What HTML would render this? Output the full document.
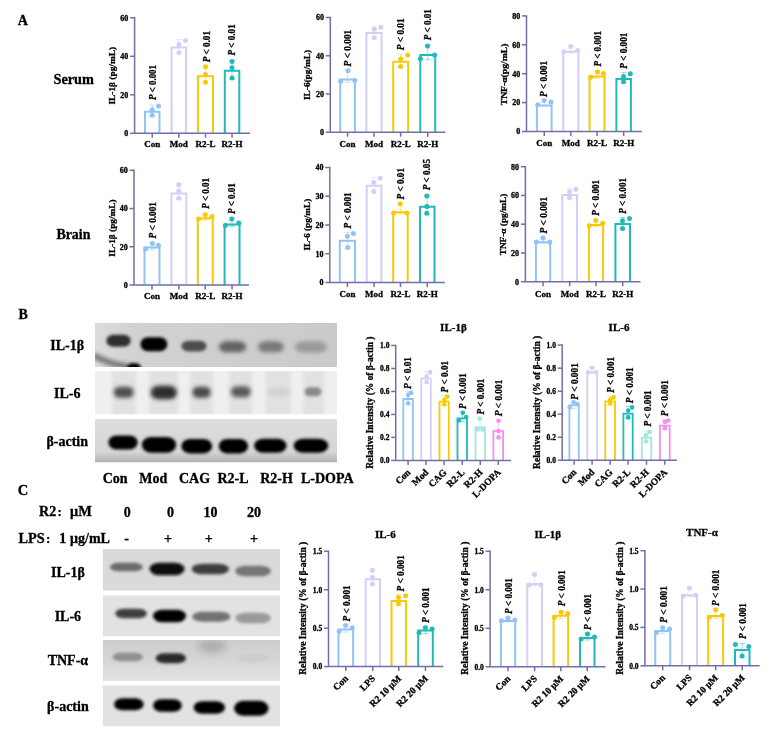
<!DOCTYPE html><html><head><meta charset="utf-8"><style>html,body{margin:0;padding:0;background:#fff;}svg{display:block;filter:blur(0.4px);}text{font-family:"Liberation Serif", serif;font-weight:bold;fill:#000;stroke:#000;stroke-width:0.3px;}</style></head><body>
<svg width="779" height="736" viewBox="0 0 779 736">
<defs><filter id="b1" x="-50%" y="-80%" width="200%" height="260%"><feGaussianBlur stdDeviation="2.2"/></filter><filter id="b2" x="-50%" y="-80%" width="200%" height="260%"><feGaussianBlur stdDeviation="1.8"/></filter><filter id="b3" x="-50%" y="-50%" width="200%" height="200%"><feGaussianBlur stdDeviation="4"/></filter><linearGradient id="gB1" x1="0" y1="0" x2="1" y2="0"><stop offset="0" stop-color="#dcdcdc"/><stop offset="0.15" stop-color="#d2d2d2"/><stop offset="1" stop-color="#cacaca"/></linearGradient><linearGradient id="gB3" x1="0" y1="0" x2="0" y2="1"><stop offset="0" stop-color="#dedede"/><stop offset="0.75" stop-color="#d6d6d6"/><stop offset="1" stop-color="#b0b0b0"/></linearGradient><linearGradient id="gC3" x1="0" y1="0" x2="0" y2="1"><stop offset="0" stop-color="#cdcdcd"/><stop offset="0.5" stop-color="#d6d6d6"/><stop offset="1" stop-color="#e4e4e4"/></linearGradient></defs>
<rect width="779" height="736" fill="#fff"/>
<text x="22.80" y="25.00" font-size="14" text-anchor="middle">A</text>
<text x="73.70" y="84.00" font-size="14" text-anchor="middle" textLength="40.50" lengthAdjust="spacingAndGlyphs">Serum</text>
<text x="73.40" y="239.20" font-size="14" text-anchor="middle" textLength="34.00" lengthAdjust="spacingAndGlyphs">Brain</text>
<path d="M145.00 133.30 V111.80 H159.50 V133.30" fill="none" stroke="#92c3f7" stroke-width="2.0"/>
<path d="M152.25 105.00 V116.20 M149.25 105.00 H155.25 M149.25 116.20 H155.25" stroke="#92c3f7" stroke-width="0.8" opacity="0.6" fill="none"/>
<circle cx="158.60" cy="106.00" r="2.5" fill="#92c3f7"/>
<circle cx="152.20" cy="109.70" r="2.5" fill="#92c3f7"/>
<circle cx="152.20" cy="115.20" r="2.5" fill="#92c3f7"/>
<path d="M171.60 133.30 V47.40 H186.10 V133.30" fill="none" stroke="#d3d0f7" stroke-width="2.0"/>
<path d="M178.85 39.60 V53.40 M175.85 39.60 H181.85 M175.85 53.40 H181.85" stroke="#d3d0f7" stroke-width="0.8" opacity="0.6" fill="none"/>
<circle cx="185.50" cy="40.60" r="2.5" fill="#d3d0f7"/>
<circle cx="179.00" cy="44.60" r="2.5" fill="#d3d0f7"/>
<circle cx="179.00" cy="52.40" r="2.5" fill="#d3d0f7"/>
<path d="M198.00 133.30 V76.20 H213.00 V133.30" fill="none" stroke="#f7c90a" stroke-width="2.0"/>
<path d="M205.50 65.70 V83.30 M202.50 65.70 H208.50 M202.50 83.30 H208.50" stroke="#f7c90a" stroke-width="0.8" opacity="0.6" fill="none"/>
<circle cx="205.50" cy="66.70" r="2.5" fill="#f7c90a"/>
<circle cx="205.50" cy="74.50" r="2.5" fill="#f7c90a"/>
<circle cx="205.50" cy="82.30" r="2.5" fill="#f7c90a"/>
<path d="M224.80 133.30 V70.80 H239.30 V133.30" fill="none" stroke="#22b9b9" stroke-width="2.0"/>
<path d="M232.05 60.40 V79.00 M229.05 60.40 H235.05 M229.05 79.00 H235.05" stroke="#22b9b9" stroke-width="0.8" opacity="0.6" fill="none"/>
<circle cx="232.00" cy="61.40" r="2.5" fill="#22b9b9"/>
<circle cx="232.00" cy="67.70" r="2.5" fill="#22b9b9"/>
<circle cx="232.00" cy="78.00" r="2.5" fill="#22b9b9"/>
<path d="M134.60 17.05 V133.30 H250.00" fill="none" stroke="#726fa8" stroke-width="1.5"/>
<path d="M130.10 133.30 H134.60" stroke="#726fa8" stroke-width="1.5"/>
<text x="128.30" y="136.10" font-size="8" text-anchor="end">0</text>
<path d="M130.10 94.80 H134.60" stroke="#726fa8" stroke-width="1.5"/>
<text x="128.30" y="97.60" font-size="8" text-anchor="end">20</text>
<path d="M130.10 56.30 H134.60" stroke="#726fa8" stroke-width="1.5"/>
<text x="128.30" y="59.10" font-size="8" text-anchor="end">40</text>
<path d="M130.10 17.80 H134.60" stroke="#726fa8" stroke-width="1.5"/>
<text x="128.30" y="20.60" font-size="8" text-anchor="end">60</text>
<path d="M152.25 133.30 V137.80" stroke="#726fa8" stroke-width="1.5"/>
<text x="152.25" y="147.40" font-size="9" text-anchor="middle">Con</text>
<path d="M178.85 133.30 V137.80" stroke="#726fa8" stroke-width="1.5"/>
<text x="178.85" y="147.40" font-size="9" text-anchor="middle">Mod</text>
<path d="M205.50 133.30 V137.80" stroke="#726fa8" stroke-width="1.5"/>
<text x="205.50" y="147.40" font-size="9" text-anchor="middle">R2-L</text>
<path d="M232.05 133.30 V137.80" stroke="#726fa8" stroke-width="1.5"/>
<text x="232.05" y="147.40" font-size="9" text-anchor="middle">R2-H</text>
<text x="156.10" y="100.00" font-size="9.6" text-anchor="start" transform="rotate(-90 156.10 100.00)" textLength="35.00" lengthAdjust="spacingAndGlyphs"><tspan font-style="italic">P</tspan> &lt; 0.001</text>
<text x="209.80" y="62.30" font-size="9.6" text-anchor="start" transform="rotate(-90 209.80 62.30)" textLength="31.30" lengthAdjust="spacingAndGlyphs"><tspan font-style="italic">P</tspan> &lt; 0.01</text>
<text x="234.90" y="55.50" font-size="9.6" text-anchor="start" transform="rotate(-90 234.90 55.50)" textLength="31.20" lengthAdjust="spacingAndGlyphs"><tspan font-style="italic">P</tspan> &lt; 0.01</text>
<text x="114.60" y="75.75" font-size="9" text-anchor="middle" transform="rotate(-90 114.60 75.75)" textLength="57.50" lengthAdjust="spacingAndGlyphs">IL-1β (pg/mL)</text>
<path d="M340.20 132.20 V79.40 H354.90 V132.20" fill="none" stroke="#92c3f7" stroke-width="2.0"/>
<path d="M347.55 69.70 V82.20 M344.55 69.70 H350.55 M344.55 82.20 H350.55" stroke="#92c3f7" stroke-width="0.8" opacity="0.6" fill="none"/>
<circle cx="348.00" cy="70.70" r="2.5" fill="#92c3f7"/>
<circle cx="340.60" cy="81.20" r="2.5" fill="#92c3f7"/>
<circle cx="354.80" cy="80.50" r="2.5" fill="#92c3f7"/>
<path d="M366.40 132.20 V33.10 H381.60 V132.20" fill="none" stroke="#d3d0f7" stroke-width="2.0"/>
<path d="M374.00 26.30 V38.80 M371.00 26.30 H377.00 M371.00 38.80 H377.00" stroke="#d3d0f7" stroke-width="0.8" opacity="0.6" fill="none"/>
<circle cx="380.90" cy="27.30" r="2.5" fill="#d3d0f7"/>
<circle cx="374.30" cy="29.30" r="2.5" fill="#d3d0f7"/>
<circle cx="374.30" cy="37.80" r="2.5" fill="#d3d0f7"/>
<path d="M393.20 132.20 V61.80 H408.10 V132.20" fill="none" stroke="#f7c90a" stroke-width="2.0"/>
<path d="M400.65 54.10 V67.40 M397.65 54.10 H403.65 M397.65 67.40 H403.65" stroke="#f7c90a" stroke-width="0.8" opacity="0.6" fill="none"/>
<circle cx="407.70" cy="55.10" r="2.5" fill="#f7c90a"/>
<circle cx="400.70" cy="59.10" r="2.5" fill="#f7c90a"/>
<circle cx="400.70" cy="66.40" r="2.5" fill="#f7c90a"/>
<path d="M420.30 132.20 V55.10 H435.20 V132.20" fill="none" stroke="#22b9b9" stroke-width="2.0"/>
<path d="M427.75 45.00 V59.70 M424.75 45.00 H430.75 M424.75 59.70 H430.75" stroke="#22b9b9" stroke-width="0.8" opacity="0.6" fill="none"/>
<circle cx="427.50" cy="46.00" r="2.5" fill="#22b9b9"/>
<circle cx="420.40" cy="58.70" r="2.5" fill="#22b9b9"/>
<circle cx="434.50" cy="55.10" r="2.5" fill="#22b9b9"/>
<path d="M330.30 16.75 V132.20 H445.30" fill="none" stroke="#726fa8" stroke-width="1.5"/>
<path d="M325.80 132.20 H330.30" stroke="#726fa8" stroke-width="1.5"/>
<text x="324.00" y="135.00" font-size="8" text-anchor="end">0</text>
<path d="M325.80 93.97 H330.30" stroke="#726fa8" stroke-width="1.5"/>
<text x="324.00" y="96.77" font-size="8" text-anchor="end">20</text>
<path d="M325.80 55.73 H330.30" stroke="#726fa8" stroke-width="1.5"/>
<text x="324.00" y="58.53" font-size="8" text-anchor="end">40</text>
<path d="M325.80 17.50 H330.30" stroke="#726fa8" stroke-width="1.5"/>
<text x="324.00" y="20.30" font-size="8" text-anchor="end">60</text>
<path d="M347.55 132.20 V136.70" stroke="#726fa8" stroke-width="1.5"/>
<text x="347.55" y="146.90" font-size="9" text-anchor="middle">Con</text>
<path d="M374.00 132.20 V136.70" stroke="#726fa8" stroke-width="1.5"/>
<text x="374.00" y="146.90" font-size="9" text-anchor="middle">Mod</text>
<path d="M400.65 132.20 V136.70" stroke="#726fa8" stroke-width="1.5"/>
<text x="400.65" y="146.90" font-size="9" text-anchor="middle">R2-L</text>
<path d="M427.75 132.20 V136.70" stroke="#726fa8" stroke-width="1.5"/>
<text x="427.75" y="146.90" font-size="9" text-anchor="middle">R2-H</text>
<text x="351.20" y="66.40" font-size="9.6" text-anchor="start" transform="rotate(-90 351.20 66.40)" textLength="36.70" lengthAdjust="spacingAndGlyphs"><tspan font-style="italic">P</tspan> &lt; 0.001</text>
<text x="404.30" y="50.20" font-size="9.6" text-anchor="start" transform="rotate(-90 404.30 50.20)" textLength="31.80" lengthAdjust="spacingAndGlyphs"><tspan font-style="italic">P</tspan> &lt; 0.01</text>
<text x="431.40" y="40.30" font-size="9.6" text-anchor="start" transform="rotate(-90 431.40 40.30)" textLength="31.10" lengthAdjust="spacingAndGlyphs"><tspan font-style="italic">P</tspan> &lt; 0.01</text>
<text x="309.90" y="75.00" font-size="9" text-anchor="middle" transform="rotate(-90 309.90 75.00)" textLength="50.00" lengthAdjust="spacingAndGlyphs">IL-6(pg/mL)</text>
<path d="M536.90 131.50 V105.40 H551.60 V131.50" fill="none" stroke="#92c3f7" stroke-width="2.0"/>
<path d="M544.25 99.50 V105.70 M541.25 99.50 H547.25 M541.25 105.70 H547.25" stroke="#92c3f7" stroke-width="0.8" opacity="0.6" fill="none"/>
<circle cx="544.10" cy="100.50" r="2.5" fill="#92c3f7"/>
<circle cx="550.90" cy="101.90" r="2.5" fill="#92c3f7"/>
<circle cx="537.80" cy="104.70" r="2.5" fill="#92c3f7"/>
<path d="M563.20 131.50 V51.80 H578.40 V131.50" fill="none" stroke="#d3d0f7" stroke-width="2.0"/>
<path d="M570.80 45.50 V52.80 M567.80 45.50 H573.80 M567.80 52.80 H573.80" stroke="#d3d0f7" stroke-width="0.8" opacity="0.6" fill="none"/>
<circle cx="570.70" cy="46.50" r="2.5" fill="#d3d0f7"/>
<circle cx="577.70" cy="50.40" r="2.5" fill="#d3d0f7"/>
<circle cx="563.90" cy="51.80" r="2.5" fill="#d3d0f7"/>
<path d="M589.60 131.50 V76.40 H604.50 V131.50" fill="none" stroke="#f7c90a" stroke-width="2.0"/>
<path d="M597.05 71.00 V78.20 M594.05 71.00 H600.05 M594.05 78.20 H600.05" stroke="#f7c90a" stroke-width="0.8" opacity="0.6" fill="none"/>
<circle cx="597.50" cy="72.00" r="2.5" fill="#f7c90a"/>
<circle cx="603.40" cy="73.40" r="2.5" fill="#f7c90a"/>
<circle cx="590.70" cy="77.20" r="2.5" fill="#f7c90a"/>
<path d="M616.40 131.50 V78.90 H630.90 V131.50" fill="none" stroke="#22b9b9" stroke-width="2.0"/>
<path d="M623.65 72.70 V82.80 M620.65 72.70 H626.65 M620.65 82.80 H626.65" stroke="#22b9b9" stroke-width="0.8" opacity="0.6" fill="none"/>
<circle cx="630.30" cy="73.70" r="2.5" fill="#22b9b9"/>
<circle cx="623.50" cy="76.50" r="2.5" fill="#22b9b9"/>
<circle cx="623.50" cy="81.80" r="2.5" fill="#22b9b9"/>
<path d="M526.50 15.15 V131.50 H641.70" fill="none" stroke="#726fa8" stroke-width="1.5"/>
<path d="M522.00 131.50 H526.50" stroke="#726fa8" stroke-width="1.5"/>
<text x="520.20" y="134.30" font-size="8" text-anchor="end">0</text>
<path d="M522.00 102.60 H526.50" stroke="#726fa8" stroke-width="1.5"/>
<text x="520.20" y="105.40" font-size="8" text-anchor="end">20</text>
<path d="M522.00 73.70 H526.50" stroke="#726fa8" stroke-width="1.5"/>
<text x="520.20" y="76.50" font-size="8" text-anchor="end">40</text>
<path d="M522.00 44.80 H526.50" stroke="#726fa8" stroke-width="1.5"/>
<text x="520.20" y="47.60" font-size="8" text-anchor="end">60</text>
<path d="M522.00 15.90 H526.50" stroke="#726fa8" stroke-width="1.5"/>
<text x="520.20" y="18.70" font-size="8" text-anchor="end">80</text>
<path d="M544.25 131.50 V136.00" stroke="#726fa8" stroke-width="1.5"/>
<text x="544.25" y="145.80" font-size="9" text-anchor="middle">Con</text>
<path d="M570.80 131.50 V136.00" stroke="#726fa8" stroke-width="1.5"/>
<text x="570.80" y="145.80" font-size="9" text-anchor="middle">Mod</text>
<path d="M597.05 131.50 V136.00" stroke="#726fa8" stroke-width="1.5"/>
<text x="597.05" y="145.80" font-size="9" text-anchor="middle">R2-L</text>
<path d="M623.65 131.50 V136.00" stroke="#726fa8" stroke-width="1.5"/>
<text x="623.65" y="145.80" font-size="9" text-anchor="middle">R2-H</text>
<text x="547.30" y="97.00" font-size="9.6" text-anchor="start" transform="rotate(-90 547.30 97.00)" textLength="36.00" lengthAdjust="spacingAndGlyphs"><tspan font-style="italic">P</tspan> &lt; 0.001</text>
<text x="600.70" y="66.60" font-size="9.6" text-anchor="start" transform="rotate(-90 600.70 66.60)" textLength="35.60" lengthAdjust="spacingAndGlyphs"><tspan font-style="italic">P</tspan> &lt; 0.001</text>
<text x="627.10" y="68.70" font-size="9.6" text-anchor="start" transform="rotate(-90 627.10 68.70)" textLength="36.00" lengthAdjust="spacingAndGlyphs"><tspan font-style="italic">P</tspan> &lt; 0.001</text>
<text x="507.10" y="74.45" font-size="9" text-anchor="middle" transform="rotate(-90 507.10 74.45)" textLength="61.70" lengthAdjust="spacingAndGlyphs">TNF-α(pg/mL)</text>
<path d="M144.50 285.00 V247.60 H159.50 V285.00" fill="none" stroke="#92c3f7" stroke-width="2.0"/>
<path d="M152.00 242.40 V250.00 M149.00 242.40 H155.00 M149.00 250.00 H155.00" stroke="#92c3f7" stroke-width="0.8" opacity="0.6" fill="none"/>
<circle cx="152.40" cy="243.40" r="2.5" fill="#92c3f7"/>
<circle cx="158.40" cy="245.20" r="2.5" fill="#92c3f7"/>
<circle cx="145.60" cy="249.00" r="2.5" fill="#92c3f7"/>
<path d="M171.40 285.00 V193.50 H186.30 V285.00" fill="none" stroke="#d3d0f7" stroke-width="2.0"/>
<path d="M178.85 183.80 V199.20 M175.85 183.80 H181.85 M175.85 199.20 H181.85" stroke="#d3d0f7" stroke-width="0.8" opacity="0.6" fill="none"/>
<circle cx="178.80" cy="184.80" r="2.5" fill="#d3d0f7"/>
<circle cx="178.80" cy="191.10" r="2.5" fill="#d3d0f7"/>
<circle cx="178.80" cy="198.20" r="2.5" fill="#d3d0f7"/>
<path d="M197.80 285.00 V218.20 H212.70 V285.00" fill="none" stroke="#f7c90a" stroke-width="2.0"/>
<path d="M205.25 213.70 V220.10 M202.25 213.70 H208.25 M202.25 220.10 H208.25" stroke="#f7c90a" stroke-width="0.8" opacity="0.6" fill="none"/>
<circle cx="205.20" cy="214.70" r="2.5" fill="#f7c90a"/>
<circle cx="212.00" cy="216.50" r="2.5" fill="#f7c90a"/>
<circle cx="198.60" cy="219.10" r="2.5" fill="#f7c90a"/>
<path d="M224.60 285.00 V224.60 H239.50 V285.00" fill="none" stroke="#22b9b9" stroke-width="2.0"/>
<path d="M232.05 217.90 V226.40 M229.05 217.90 H235.05 M229.05 226.40 H235.05" stroke="#22b9b9" stroke-width="0.8" opacity="0.6" fill="none"/>
<circle cx="231.80" cy="218.90" r="2.5" fill="#22b9b9"/>
<circle cx="238.80" cy="222.90" r="2.5" fill="#22b9b9"/>
<circle cx="225.40" cy="225.40" r="2.5" fill="#22b9b9"/>
<path d="M134.00 169.55 V285.00 H249.00" fill="none" stroke="#726fa8" stroke-width="1.5"/>
<path d="M129.50 285.00 H134.00" stroke="#726fa8" stroke-width="1.5"/>
<text x="127.70" y="287.80" font-size="8" text-anchor="end">0</text>
<path d="M129.50 246.77 H134.00" stroke="#726fa8" stroke-width="1.5"/>
<text x="127.70" y="249.57" font-size="8" text-anchor="end">20</text>
<path d="M129.50 208.53 H134.00" stroke="#726fa8" stroke-width="1.5"/>
<text x="127.70" y="211.33" font-size="8" text-anchor="end">40</text>
<path d="M129.50 170.30 H134.00" stroke="#726fa8" stroke-width="1.5"/>
<text x="127.70" y="173.10" font-size="8" text-anchor="end">60</text>
<path d="M152.00 285.00 V289.50" stroke="#726fa8" stroke-width="1.5"/>
<text x="152.00" y="299.00" font-size="9" text-anchor="middle">Con</text>
<path d="M178.85 285.00 V289.50" stroke="#726fa8" stroke-width="1.5"/>
<text x="178.85" y="299.00" font-size="9" text-anchor="middle">Mod</text>
<path d="M205.25 285.00 V289.50" stroke="#726fa8" stroke-width="1.5"/>
<text x="205.25" y="299.00" font-size="9" text-anchor="middle">R2-L</text>
<path d="M232.05 285.00 V289.50" stroke="#726fa8" stroke-width="1.5"/>
<text x="232.05" y="299.00" font-size="9" text-anchor="middle">R2-H</text>
<text x="155.90" y="238.40" font-size="9.6" text-anchor="start" transform="rotate(-90 155.90 238.40)" textLength="36.40" lengthAdjust="spacingAndGlyphs"><tspan font-style="italic">P</tspan> &lt; 0.001</text>
<text x="208.90" y="208.80" font-size="9.6" text-anchor="start" transform="rotate(-90 208.90 208.80)" textLength="30.80" lengthAdjust="spacingAndGlyphs"><tspan font-style="italic">P</tspan> &lt; 0.01</text>
<text x="235.00" y="214.10" font-size="9.6" text-anchor="start" transform="rotate(-90 235.00 214.10)" textLength="31.00" lengthAdjust="spacingAndGlyphs"><tspan font-style="italic">P</tspan> &lt; 0.01</text>
<text x="114.60" y="228.05" font-size="9" text-anchor="middle" transform="rotate(-90 114.60 228.05)" textLength="57.30" lengthAdjust="spacingAndGlyphs">IL-1β (pg/mL)</text>
<path d="M339.80 282.50 V240.70 H355.00 V282.50" fill="none" stroke="#92c3f7" stroke-width="2.0"/>
<path d="M347.40 232.40 V248.60 M344.40 232.40 H350.40 M344.40 248.60 H350.40" stroke="#92c3f7" stroke-width="0.8" opacity="0.6" fill="none"/>
<circle cx="347.40" cy="236.20" r="2.5" fill="#92c3f7"/>
<circle cx="353.40" cy="233.40" r="2.5" fill="#92c3f7"/>
<circle cx="347.80" cy="247.60" r="2.5" fill="#92c3f7"/>
<path d="M366.70 282.50 V185.70 H381.40 V282.50" fill="none" stroke="#d3d0f7" stroke-width="2.0"/>
<path d="M374.05 177.30 V192.40 M371.05 177.30 H377.05 M371.05 192.40 H377.05" stroke="#d3d0f7" stroke-width="0.8" opacity="0.6" fill="none"/>
<circle cx="380.20" cy="178.30" r="2.5" fill="#d3d0f7"/>
<circle cx="373.80" cy="182.50" r="2.5" fill="#d3d0f7"/>
<circle cx="373.80" cy="191.40" r="2.5" fill="#d3d0f7"/>
<path d="M393.20 282.50 V212.20 H407.70 V282.50" fill="none" stroke="#f7c90a" stroke-width="2.0"/>
<path d="M400.45 202.70 V213.90 M397.45 202.70 H403.45 M397.45 213.90 H403.45" stroke="#f7c90a" stroke-width="0.8" opacity="0.6" fill="none"/>
<circle cx="400.20" cy="203.70" r="2.5" fill="#f7c90a"/>
<circle cx="393.60" cy="212.90" r="2.5" fill="#f7c90a"/>
<circle cx="407.00" cy="212.90" r="2.5" fill="#f7c90a"/>
<path d="M420.00 282.50 V206.80 H434.50 V282.50" fill="none" stroke="#22b9b9" stroke-width="2.0"/>
<path d="M427.25 195.00 V214.20 M424.25 195.00 H430.25 M424.25 214.20 H430.25" stroke="#22b9b9" stroke-width="0.8" opacity="0.6" fill="none"/>
<circle cx="426.80" cy="196.00" r="2.5" fill="#22b9b9"/>
<circle cx="426.80" cy="206.50" r="2.5" fill="#22b9b9"/>
<circle cx="426.80" cy="213.20" r="2.5" fill="#22b9b9"/>
<path d="M329.80 166.75 V282.50 H444.80" fill="none" stroke="#726fa8" stroke-width="1.5"/>
<path d="M325.30 282.50 H329.80" stroke="#726fa8" stroke-width="1.5"/>
<text x="323.50" y="285.30" font-size="8" text-anchor="end">0</text>
<path d="M325.30 253.75 H329.80" stroke="#726fa8" stroke-width="1.5"/>
<text x="323.50" y="256.55" font-size="8" text-anchor="end">10</text>
<path d="M325.30 225.00 H329.80" stroke="#726fa8" stroke-width="1.5"/>
<text x="323.50" y="227.80" font-size="8" text-anchor="end">20</text>
<path d="M325.30 196.25 H329.80" stroke="#726fa8" stroke-width="1.5"/>
<text x="323.50" y="199.05" font-size="8" text-anchor="end">30</text>
<path d="M325.30 167.50 H329.80" stroke="#726fa8" stroke-width="1.5"/>
<text x="323.50" y="170.30" font-size="8" text-anchor="end">40</text>
<path d="M347.40 282.50 V287.00" stroke="#726fa8" stroke-width="1.5"/>
<text x="347.40" y="296.90" font-size="9" text-anchor="middle">Con</text>
<path d="M374.05 282.50 V287.00" stroke="#726fa8" stroke-width="1.5"/>
<text x="374.05" y="296.90" font-size="9" text-anchor="middle">Mod</text>
<path d="M400.45 282.50 V287.00" stroke="#726fa8" stroke-width="1.5"/>
<text x="400.45" y="296.90" font-size="9" text-anchor="middle">R2-L</text>
<path d="M427.25 282.50 V287.00" stroke="#726fa8" stroke-width="1.5"/>
<text x="427.25" y="296.90" font-size="9" text-anchor="middle">R2-H</text>
<text x="350.60" y="228.40" font-size="9.6" text-anchor="start" transform="rotate(-90 350.60 228.40)" textLength="36.00" lengthAdjust="spacingAndGlyphs"><tspan font-style="italic">P</tspan> &lt; 0.001</text>
<text x="403.90" y="199.50" font-size="9.6" text-anchor="start" transform="rotate(-90 403.90 199.50)" textLength="31.50" lengthAdjust="spacingAndGlyphs"><tspan font-style="italic">P</tspan> &lt; 0.01</text>
<text x="430.00" y="190.30" font-size="9.6" text-anchor="start" transform="rotate(-90 430.00 190.30)" textLength="31.30" lengthAdjust="spacingAndGlyphs"><tspan font-style="italic">P</tspan> &lt; 0.05</text>
<text x="309.90" y="224.70" font-size="9" text-anchor="middle" transform="rotate(-90 309.90 224.70)" textLength="51.80" lengthAdjust="spacingAndGlyphs">IL-6 (pg/mL)</text>
<path d="M535.90 281.70 V242.20 H550.20 V281.70" fill="none" stroke="#92c3f7" stroke-width="2.0"/>
<path d="M543.05 237.10 V243.00 M540.05 237.10 H546.05 M540.05 243.00 H546.05" stroke="#92c3f7" stroke-width="0.8" opacity="0.6" fill="none"/>
<circle cx="543.00" cy="238.10" r="2.5" fill="#92c3f7"/>
<circle cx="536.40" cy="242.00" r="2.5" fill="#92c3f7"/>
<circle cx="549.80" cy="242.00" r="2.5" fill="#92c3f7"/>
<path d="M562.30 281.70 V194.90 H577.00 V281.70" fill="none" stroke="#d3d0f7" stroke-width="2.0"/>
<path d="M569.65 188.30 V198.80 M566.65 188.30 H572.65 M566.65 198.80 H572.65" stroke="#d3d0f7" stroke-width="0.8" opacity="0.6" fill="none"/>
<circle cx="575.90" cy="189.30" r="2.5" fill="#d3d0f7"/>
<circle cx="569.50" cy="191.80" r="2.5" fill="#d3d0f7"/>
<circle cx="569.50" cy="197.80" r="2.5" fill="#d3d0f7"/>
<path d="M588.90 281.70 V225.00 H603.10 V281.70" fill="none" stroke="#f7c90a" stroke-width="2.0"/>
<path d="M596.00 219.40 V226.70 M593.00 219.40 H599.00 M593.00 226.70 H599.00" stroke="#f7c90a" stroke-width="0.8" opacity="0.6" fill="none"/>
<circle cx="595.70" cy="220.40" r="2.5" fill="#f7c90a"/>
<circle cx="602.70" cy="223.20" r="2.5" fill="#f7c90a"/>
<circle cx="589.30" cy="225.70" r="2.5" fill="#f7c90a"/>
<path d="M615.40 281.70 V223.90 H630.00 V281.70" fill="none" stroke="#22b9b9" stroke-width="2.0"/>
<path d="M622.70 217.40 V229.50 M619.70 217.40 H625.70 M619.70 229.50 H625.70" stroke="#22b9b9" stroke-width="0.8" opacity="0.6" fill="none"/>
<circle cx="629.50" cy="218.40" r="2.5" fill="#22b9b9"/>
<circle cx="622.50" cy="220.80" r="2.5" fill="#22b9b9"/>
<circle cx="622.50" cy="228.50" r="2.5" fill="#22b9b9"/>
<path d="M525.40 165.95 V281.70 H640.50" fill="none" stroke="#726fa8" stroke-width="1.5"/>
<path d="M520.90 281.70 H525.40" stroke="#726fa8" stroke-width="1.5"/>
<text x="519.10" y="284.50" font-size="8" text-anchor="end">0</text>
<path d="M520.90 252.95 H525.40" stroke="#726fa8" stroke-width="1.5"/>
<text x="519.10" y="255.75" font-size="8" text-anchor="end">20</text>
<path d="M520.90 224.20 H525.40" stroke="#726fa8" stroke-width="1.5"/>
<text x="519.10" y="227.00" font-size="8" text-anchor="end">40</text>
<path d="M520.90 195.45 H525.40" stroke="#726fa8" stroke-width="1.5"/>
<text x="519.10" y="198.25" font-size="8" text-anchor="end">60</text>
<path d="M520.90 166.70 H525.40" stroke="#726fa8" stroke-width="1.5"/>
<text x="519.10" y="169.50" font-size="8" text-anchor="end">80</text>
<path d="M543.05 281.70 V286.20" stroke="#726fa8" stroke-width="1.5"/>
<text x="543.05" y="296.90" font-size="9" text-anchor="middle">Con</text>
<path d="M569.65 281.70 V286.20" stroke="#726fa8" stroke-width="1.5"/>
<text x="569.65" y="296.90" font-size="9" text-anchor="middle">Mod</text>
<path d="M596.00 281.70 V286.20" stroke="#726fa8" stroke-width="1.5"/>
<text x="596.00" y="296.90" font-size="9" text-anchor="middle">R2-L</text>
<path d="M622.70 281.70 V286.20" stroke="#726fa8" stroke-width="1.5"/>
<text x="622.70" y="296.90" font-size="9" text-anchor="middle">R2-H</text>
<text x="546.60" y="233.50" font-size="9.6" text-anchor="start" transform="rotate(-90 546.60 233.50)" textLength="36.70" lengthAdjust="spacingAndGlyphs"><tspan font-style="italic">P</tspan> &lt; 0.001</text>
<text x="598.90" y="215.80" font-size="9.6" text-anchor="start" transform="rotate(-90 598.90 215.80)" textLength="36.00" lengthAdjust="spacingAndGlyphs"><tspan font-style="italic">P</tspan> &lt; 0.001</text>
<text x="625.70" y="213.70" font-size="9.6" text-anchor="start" transform="rotate(-90 625.70 213.70)" textLength="35.70" lengthAdjust="spacingAndGlyphs"><tspan font-style="italic">P</tspan> &lt; 0.001</text>
<text x="505.80" y="224.45" font-size="9" text-anchor="middle" transform="rotate(-90 505.80 224.45)" textLength="61.70" lengthAdjust="spacingAndGlyphs">TNF-α (pg/mL)</text>
<text x="23.10" y="318.50" font-size="14" text-anchor="middle">B</text>
<clipPath id="cb1"><rect x="95" y="323" width="242" height="44"/></clipPath><g clip-path="url(#cb1)">
<rect x="95" y="323" width="242" height="44" fill="url(#gB1)"/>
<rect x="106.3" y="334.7" width="24.4" height="12.1" rx="6.8" ry="6.1" fill="#2e2e2e" opacity="1.0" filter="url(#b2)"/>
<rect x="140.5" y="337.2" width="26.8" height="14.1" rx="7.5" ry="7.1" fill="#000" opacity="1.0" filter="url(#b2)"/>
<rect x="181.4" y="340.8" width="25.2" height="10.6" rx="7.1" ry="5.3" fill="#4e4e4e" opacity="1.0" filter="url(#b2)"/>
<rect x="218.9" y="341.3" width="27.3" height="11.0" rx="7.6" ry="5.5" fill="#626262" opacity="1.0" filter="url(#b1)"/>
<rect x="258.1" y="341.3" width="25.7" height="11.0" rx="7.2" ry="5.5" fill="#787878" opacity="1.0" filter="url(#b1)"/>
<rect x="294.8" y="341.3" width="32.4" height="11.5" rx="9.1" ry="5.8" fill="#9a9a9a" opacity="1.0" filter="url(#b1)"/>
<path d="M93 355 Q108 364 130 367" stroke="#747474" stroke-width="6" fill="none" filter="url(#b1)"/>
<ellipse cx="134.0" cy="367.5" rx="7.0" ry="4.5" fill="#000" opacity="1.0" filter="url(#b2)"/>
</g>
<clipPath id="cl1"><rect x="95" y="371" width="242" height="43.4"/></clipPath><g clip-path="url(#cl1)">
<rect x="95" y="371" width="242" height="43.4" fill="#efefef"/>
<rect x="112" y="371" width="24" height="43.4" fill="#dedede" filter="url(#b2)" opacity="0.8"/>
<rect x="149" y="371" width="29" height="43.4" fill="#dedede" filter="url(#b2)" opacity="0.8"/>
<rect x="190" y="371" width="23" height="43.4" fill="#dedede" filter="url(#b2)" opacity="0.8"/>
<rect x="229" y="371" width="23" height="43.4" fill="#dedede" filter="url(#b2)" opacity="0.8"/>
<rect x="266" y="371" width="25" height="43.4" fill="#dedede" filter="url(#b2)" opacity="0.8"/>
<rect x="303" y="371" width="21" height="43.4" fill="#dedede" filter="url(#b2)" opacity="0.8"/>
<rect x="113.7" y="386.7" width="19.9" height="11.1" rx="5.6" ry="5.6" fill="#505050" opacity="1.0" filter="url(#b1)"/>
<rect x="150.7" y="385.7" width="26.2" height="13.6" rx="7.3" ry="6.8" fill="#2e2e2e" opacity="1.0" filter="url(#b1)"/>
<rect x="192.4" y="386.7" width="18.2" height="11.1" rx="5.1" ry="5.6" fill="#484848" opacity="1.0" filter="url(#b1)"/>
<rect x="230.9" y="386.2" width="19.9" height="11.1" rx="5.6" ry="5.6" fill="#5a5a5a" opacity="1.0" filter="url(#b1)"/>
<rect x="267.7" y="387.7" width="21.6" height="8.6" rx="6.0" ry="4.3" fill="#d2d2d2" opacity="1.0" filter="url(#b2)"/>
<rect x="304.7" y="387.2" width="16.6" height="9.1" rx="4.6" ry="4.6" fill="#8a8a8a" opacity="1.0" filter="url(#b2)"/>
</g>
<clipPath id="cl2"><rect x="95" y="418.8" width="242" height="43.7"/></clipPath><g clip-path="url(#cl2)">
<rect x="95" y="418.8" width="242" height="43.7" fill="url(#gB3)"/>
<rect x="108.4" y="435.6" width="29.3" height="13.9" rx="8.2" ry="6.9" fill="#000" opacity="1.0" filter="url(#b2)"/>
<rect x="141.8" y="436.9" width="34.4" height="15.8" rx="9.6" ry="7.9" fill="#000" opacity="1.0" filter="url(#b2)"/>
<rect x="181.3" y="439.0" width="30.9" height="14.4" rx="8.7" ry="7.2" fill="#000" opacity="1.0" filter="url(#b2)"/>
<rect x="218.8" y="439.0" width="29.3" height="14.4" rx="8.2" ry="7.2" fill="#000" opacity="1.0" filter="url(#b2)"/>
<rect x="254.1" y="438.8" width="32.5" height="13.9" rx="9.1" ry="6.9" fill="#000" opacity="1.0" filter="url(#b2)"/>
<rect x="293.6" y="438.8" width="34.7" height="13.9" rx="9.7" ry="6.9" fill="#000" opacity="1.0" filter="url(#b2)"/>
</g>
<text x="67.20" y="350.40" font-size="14" text-anchor="middle">IL-1β</text>
<text x="67.20" y="398.20" font-size="14" text-anchor="middle">IL-6</text>
<text x="67.20" y="446.00" font-size="14" text-anchor="middle">β-actin</text>
<text x="115.10" y="483.30" font-size="14" text-anchor="middle">Con</text>
<text x="153.20" y="483.30" font-size="14" text-anchor="middle">Mod</text>
<text x="194.50" y="483.30" font-size="14" text-anchor="middle">CAG</text>
<text x="233.00" y="483.30" font-size="14" text-anchor="middle">R2-L</text>
<text x="276.50" y="483.30" font-size="14" text-anchor="middle">R2-H</text>
<text x="327.30" y="483.30" font-size="14" text-anchor="middle">L-DOPA</text>
<path d="M403.30 460.40 V399.00 H412.90 V460.40" fill="none" stroke="#92c3f7" stroke-width="1.8"/>
<path d="M408.10 391.80 V404.20 M405.10 391.80 H411.10 M405.10 404.20 H411.10" stroke="#92c3f7" stroke-width="0.8" opacity="0.6" fill="none"/>
<circle cx="411.20" cy="392.80" r="2.3" fill="#92c3f7"/>
<circle cx="408.10" cy="395.10" r="2.3" fill="#92c3f7"/>
<circle cx="408.10" cy="403.20" r="2.3" fill="#92c3f7"/>
<path d="M421.30 460.40 V378.60 H430.80 V460.40" fill="none" stroke="#d3d0f7" stroke-width="1.8"/>
<path d="M426.05 371.40 V383.00 M423.05 371.40 H429.05 M423.05 383.00 H429.05" stroke="#d3d0f7" stroke-width="0.8" opacity="0.6" fill="none"/>
<circle cx="430.10" cy="372.40" r="2.3" fill="#d3d0f7"/>
<circle cx="426.60" cy="376.60" r="2.3" fill="#d3d0f7"/>
<circle cx="426.60" cy="382.00" r="2.3" fill="#d3d0f7"/>
<path d="M439.50 460.40 V401.70 H448.80 V460.40" fill="none" stroke="#f7c90a" stroke-width="1.8"/>
<path d="M444.15 395.60 V405.30 M441.15 395.60 H447.15 M441.15 405.30 H447.15" stroke="#f7c90a" stroke-width="0.8" opacity="0.6" fill="none"/>
<circle cx="447.40" cy="396.60" r="2.3" fill="#f7c90a"/>
<circle cx="444.30" cy="399.70" r="2.3" fill="#f7c90a"/>
<circle cx="444.30" cy="404.30" r="2.3" fill="#f7c90a"/>
<path d="M457.50 460.40 V418.30 H467.00 V460.40" fill="none" stroke="#22b9b9" stroke-width="1.8"/>
<path d="M462.25 411.80 V421.50 M459.25 411.80 H465.25 M459.25 421.50 H465.25" stroke="#22b9b9" stroke-width="0.8" opacity="0.6" fill="none"/>
<circle cx="462.80" cy="412.80" r="2.3" fill="#22b9b9"/>
<circle cx="466.20" cy="417.10" r="2.3" fill="#22b9b9"/>
<circle cx="458.90" cy="420.50" r="2.3" fill="#22b9b9"/>
<path d="M475.50 460.40 V427.50 H485.00 V460.40" fill="none" stroke="#a6e6df" stroke-width="1.8"/>
<path d="M480.25 417.60 V430.40 M477.25 417.60 H483.25 M477.25 430.40 H483.25" stroke="#a6e6df" stroke-width="0.8" opacity="0.6" fill="none"/>
<circle cx="479.70" cy="418.60" r="2.3" fill="#a6e6df"/>
<circle cx="477.40" cy="429.40" r="2.3" fill="#a6e6df"/>
<circle cx="482.80" cy="429.40" r="2.3" fill="#a6e6df"/>
<path d="M493.40 460.40 V431.10 H503.10 V460.40" fill="none" stroke="#f38ef3" stroke-width="1.8"/>
<path d="M498.25 419.70 V438.40 M495.25 419.70 H501.25 M495.25 438.40 H501.25" stroke="#f38ef3" stroke-width="0.8" opacity="0.6" fill="none"/>
<circle cx="498.50" cy="420.70" r="2.3" fill="#f38ef3"/>
<circle cx="498.50" cy="431.00" r="2.3" fill="#f38ef3"/>
<circle cx="498.50" cy="437.40" r="2.3" fill="#f38ef3"/>
<path d="M395.70 344.75 V460.40 H511.20" fill="none" stroke="#726fa8" stroke-width="1.5"/>
<path d="M391.20 460.40 H395.70" stroke="#726fa8" stroke-width="1.5"/>
<text x="389.40" y="463.20" font-size="7.5" text-anchor="end">0.0</text>
<path d="M391.20 437.42 H395.70" stroke="#726fa8" stroke-width="1.5"/>
<text x="389.40" y="440.22" font-size="7.5" text-anchor="end">0.2</text>
<path d="M391.20 414.44 H395.70" stroke="#726fa8" stroke-width="1.5"/>
<text x="389.40" y="417.24" font-size="7.5" text-anchor="end">0.4</text>
<path d="M391.20 391.46 H395.70" stroke="#726fa8" stroke-width="1.5"/>
<text x="389.40" y="394.26" font-size="7.5" text-anchor="end">0.6</text>
<path d="M391.20 368.48 H395.70" stroke="#726fa8" stroke-width="1.5"/>
<text x="389.40" y="371.28" font-size="7.5" text-anchor="end">0.8</text>
<path d="M391.20 345.50 H395.70" stroke="#726fa8" stroke-width="1.5"/>
<text x="389.40" y="348.30" font-size="7.5" text-anchor="end">1.0</text>
<path d="M408.10 460.40 V464.90" stroke="#726fa8" stroke-width="1.5"/>
<text x="411.10" y="472.90" font-size="9.5" text-anchor="end" transform="rotate(-45 411.10 472.90)">Con</text>
<path d="M426.05 460.40 V464.90" stroke="#726fa8" stroke-width="1.5"/>
<text x="429.05" y="472.90" font-size="9.5" text-anchor="end" transform="rotate(-45 429.05 472.90)">Mod</text>
<path d="M444.15 460.40 V464.90" stroke="#726fa8" stroke-width="1.5"/>
<text x="447.15" y="472.90" font-size="9.5" text-anchor="end" transform="rotate(-45 447.15 472.90)">CAG</text>
<path d="M462.25 460.40 V464.90" stroke="#726fa8" stroke-width="1.5"/>
<text x="465.25" y="472.90" font-size="9.5" text-anchor="end" transform="rotate(-45 465.25 472.90)">R2-L</text>
<path d="M480.25 460.40 V464.90" stroke="#726fa8" stroke-width="1.5"/>
<text x="483.25" y="472.90" font-size="9.5" text-anchor="end" transform="rotate(-45 483.25 472.90)">R2-H</text>
<path d="M498.25 460.40 V464.90" stroke="#726fa8" stroke-width="1.5"/>
<text x="501.25" y="472.90" font-size="9.5" text-anchor="end" transform="rotate(-45 501.25 472.90)">L-DOPA</text>
<text x="453.40" y="331.30" font-size="11" text-anchor="middle">IL-1β</text>
<text x="411.30" y="388.90" font-size="9.6" text-anchor="start" transform="rotate(-90 411.30 388.90)" textLength="31.90" lengthAdjust="spacingAndGlyphs"><tspan font-style="italic">P</tspan> &lt; 0.01</text>
<text x="448.20" y="392.40" font-size="9.6" text-anchor="start" transform="rotate(-90 448.20 392.40)" textLength="31.50" lengthAdjust="spacingAndGlyphs"><tspan font-style="italic">P</tspan> &lt; 0.01</text>
<text x="466.00" y="408.90" font-size="9.6" text-anchor="start" transform="rotate(-90 466.00 408.90)" textLength="35.70" lengthAdjust="spacingAndGlyphs"><tspan font-style="italic">P</tspan> &lt; 0.001</text>
<text x="483.70" y="414.60" font-size="9.6" text-anchor="start" transform="rotate(-90 483.70 414.60)" textLength="36.00" lengthAdjust="spacingAndGlyphs"><tspan font-style="italic">P</tspan> &lt; 0.001</text>
<text x="501.70" y="416.20" font-size="9.6" text-anchor="start" transform="rotate(-90 501.70 416.20)" textLength="36.50" lengthAdjust="spacingAndGlyphs"><tspan font-style="italic">P</tspan> &lt; 0.001</text>
<text x="373.40" y="402.65" font-size="9.3" text-anchor="middle" transform="rotate(-90 373.40 402.65)" textLength="132.10" lengthAdjust="spacingAndGlyphs">Relative Intensity (% of β-actin )</text>
<path d="M569.40 460.30 V405.20 H578.80 V460.30" fill="none" stroke="#92c3f7" stroke-width="1.8"/>
<path d="M574.10 401.30 V408.40 M571.10 401.30 H577.10 M571.10 408.40 H577.10" stroke="#92c3f7" stroke-width="0.8" opacity="0.6" fill="none"/>
<circle cx="573.60" cy="402.30" r="2.3" fill="#92c3f7"/>
<circle cx="577.40" cy="404.30" r="2.3" fill="#92c3f7"/>
<circle cx="569.70" cy="407.40" r="2.3" fill="#92c3f7"/>
<path d="M587.20 460.30 V372.40 H597.00 V460.30" fill="none" stroke="#d3d0f7" stroke-width="1.8"/>
<path d="M592.10 366.80 V373.40 M589.10 366.80 H595.10 M589.10 373.40 H595.10" stroke="#d3d0f7" stroke-width="0.8" opacity="0.6" fill="none"/>
<circle cx="592.00" cy="367.80" r="2.3" fill="#d3d0f7"/>
<circle cx="588.20" cy="372.40" r="2.3" fill="#d3d0f7"/>
<circle cx="596.20" cy="372.40" r="2.3" fill="#d3d0f7"/>
<path d="M605.30 460.30 V401.40 H615.00 V460.30" fill="none" stroke="#f7c90a" stroke-width="1.8"/>
<path d="M610.15 396.40 V404.50 M607.15 396.40 H613.15 M607.15 404.50 H613.15" stroke="#f7c90a" stroke-width="0.8" opacity="0.6" fill="none"/>
<circle cx="613.60" cy="397.40" r="2.3" fill="#f7c90a"/>
<circle cx="610.10" cy="399.70" r="2.3" fill="#f7c90a"/>
<circle cx="610.10" cy="403.50" r="2.3" fill="#f7c90a"/>
<path d="M623.40 460.30 V413.70 H632.70 V460.30" fill="none" stroke="#22b9b9" stroke-width="1.8"/>
<path d="M628.05 406.40 V418.40 M625.05 406.40 H631.05 M625.05 418.40 H631.05" stroke="#22b9b9" stroke-width="0.8" opacity="0.6" fill="none"/>
<circle cx="632.10" cy="407.40" r="2.3" fill="#22b9b9"/>
<circle cx="628.20" cy="410.50" r="2.3" fill="#22b9b9"/>
<circle cx="628.20" cy="417.40" r="2.3" fill="#22b9b9"/>
<path d="M641.80 460.30 V437.60 H651.20 V460.30" fill="none" stroke="#a6e6df" stroke-width="1.8"/>
<path d="M646.50 431.00 V442.30 M643.50 431.00 H649.50 M643.50 442.30 H649.50" stroke="#a6e6df" stroke-width="0.8" opacity="0.6" fill="none"/>
<circle cx="649.80" cy="432.00" r="2.3" fill="#a6e6df"/>
<circle cx="646.00" cy="435.10" r="2.3" fill="#a6e6df"/>
<circle cx="646.00" cy="441.30" r="2.3" fill="#a6e6df"/>
<path d="M659.90 460.30 V425.70 H669.70 V460.30" fill="none" stroke="#f38ef3" stroke-width="1.8"/>
<path d="M664.80 419.50 V429.20 M661.80 419.50 H667.80 M661.80 429.20 H667.80" stroke="#f38ef3" stroke-width="0.8" opacity="0.6" fill="none"/>
<circle cx="668.30" cy="420.50" r="2.3" fill="#f38ef3"/>
<circle cx="664.90" cy="422.00" r="2.3" fill="#f38ef3"/>
<circle cx="664.90" cy="428.20" r="2.3" fill="#f38ef3"/>
<path d="M562.20 344.35 V460.30 H676.90" fill="none" stroke="#726fa8" stroke-width="1.5"/>
<path d="M557.70 460.30 H562.20" stroke="#726fa8" stroke-width="1.5"/>
<text x="555.90" y="463.10" font-size="7.5" text-anchor="end">0.0</text>
<path d="M557.70 437.26 H562.20" stroke="#726fa8" stroke-width="1.5"/>
<text x="555.90" y="440.06" font-size="7.5" text-anchor="end">0.2</text>
<path d="M557.70 414.22 H562.20" stroke="#726fa8" stroke-width="1.5"/>
<text x="555.90" y="417.02" font-size="7.5" text-anchor="end">0.4</text>
<path d="M557.70 391.18 H562.20" stroke="#726fa8" stroke-width="1.5"/>
<text x="555.90" y="393.98" font-size="7.5" text-anchor="end">0.6</text>
<path d="M557.70 368.14 H562.20" stroke="#726fa8" stroke-width="1.5"/>
<text x="555.90" y="370.94" font-size="7.5" text-anchor="end">0.8</text>
<path d="M557.70 345.10 H562.20" stroke="#726fa8" stroke-width="1.5"/>
<text x="555.90" y="347.90" font-size="7.5" text-anchor="end">1.0</text>
<path d="M574.10 460.30 V464.80" stroke="#726fa8" stroke-width="1.5"/>
<text x="577.10" y="472.80" font-size="9.5" text-anchor="end" transform="rotate(-45 577.10 472.80)">Con</text>
<path d="M592.10 460.30 V464.80" stroke="#726fa8" stroke-width="1.5"/>
<text x="595.10" y="472.80" font-size="9.5" text-anchor="end" transform="rotate(-45 595.10 472.80)">Mod</text>
<path d="M610.15 460.30 V464.80" stroke="#726fa8" stroke-width="1.5"/>
<text x="613.15" y="472.80" font-size="9.5" text-anchor="end" transform="rotate(-45 613.15 472.80)">CAG</text>
<path d="M628.05 460.30 V464.80" stroke="#726fa8" stroke-width="1.5"/>
<text x="631.05" y="472.80" font-size="9.5" text-anchor="end" transform="rotate(-45 631.05 472.80)">R2-L</text>
<path d="M646.50 460.30 V464.80" stroke="#726fa8" stroke-width="1.5"/>
<text x="649.50" y="472.80" font-size="9.5" text-anchor="end" transform="rotate(-45 649.50 472.80)">R2-H</text>
<path d="M664.80 460.30 V464.80" stroke="#726fa8" stroke-width="1.5"/>
<text x="667.80" y="472.80" font-size="9.5" text-anchor="end" transform="rotate(-45 667.80 472.80)">L-DOPA</text>
<text x="619.00" y="330.80" font-size="11" text-anchor="middle">IL-6</text>
<text x="577.80" y="399.70" font-size="9.6" text-anchor="start" transform="rotate(-90 577.80 399.70)" textLength="36.50" lengthAdjust="spacingAndGlyphs"><tspan font-style="italic">P</tspan> &lt; 0.001</text>
<text x="614.50" y="392.80" font-size="9.6" text-anchor="start" transform="rotate(-90 614.50 392.80)" textLength="35.80" lengthAdjust="spacingAndGlyphs"><tspan font-style="italic">P</tspan> &lt; 0.001</text>
<text x="632.70" y="403.20" font-size="9.6" text-anchor="start" transform="rotate(-90 632.70 403.20)" textLength="35.90" lengthAdjust="spacingAndGlyphs"><tspan font-style="italic">P</tspan> &lt; 0.001</text>
<text x="650.70" y="426.60" font-size="9.6" text-anchor="start" transform="rotate(-90 650.70 426.60)" textLength="36.20" lengthAdjust="spacingAndGlyphs"><tspan font-style="italic">P</tspan> &lt; 0.001</text>
<text x="668.10" y="416.20" font-size="9.6" text-anchor="start" transform="rotate(-90 668.10 416.20)" textLength="36.10" lengthAdjust="spacingAndGlyphs"><tspan font-style="italic">P</tspan> &lt; 0.001</text>
<text x="539.70" y="402.30" font-size="9.3" text-anchor="middle" transform="rotate(-90 539.70 402.30)" textLength="133.20" lengthAdjust="spacingAndGlyphs">Relative Intensity (% of β-actin )</text>
<text x="23.00" y="495.30" font-size="14.5" text-anchor="middle">C</text>
<text x="39.00" y="516.30" font-size="14" text-anchor="start" textLength="17.20" lengthAdjust="spacingAndGlyphs">R2</text>
<text x="57.60" y="516.30" font-size="13" text-anchor="start">:</text>
<text x="70.00" y="516.30" font-size="14" text-anchor="start" textLength="21.70" lengthAdjust="spacingAndGlyphs">μM</text>
<text x="18.50" y="542.50" font-size="14" text-anchor="start" textLength="26.20" lengthAdjust="spacingAndGlyphs">LPS</text>
<text x="46.00" y="542.50" font-size="13" text-anchor="start">:</text>
<text x="59.30" y="542.50" font-size="14" text-anchor="start">1</text>
<text x="70.00" y="542.50" font-size="14" text-anchor="start" textLength="40.00" lengthAdjust="spacingAndGlyphs">μg/mL</text>
<text x="127.20" y="517.00" font-size="14" text-anchor="middle">0</text>
<text x="170.50" y="517.00" font-size="14" text-anchor="middle">0</text>
<text x="210.60" y="517.00" font-size="14" text-anchor="middle">10</text>
<text x="254.00" y="517.00" font-size="14" text-anchor="middle">20</text>
<text x="126.50" y="542.80" font-size="14" text-anchor="middle">-</text>
<text x="168.00" y="542.80" font-size="14" text-anchor="middle">+</text>
<text x="208.80" y="542.80" font-size="14" text-anchor="middle">+</text>
<text x="254.00" y="542.80" font-size="14" text-anchor="middle">+</text>
<clipPath id="cl3"><rect x="102.7" y="548.9" width="177.3" height="41.8"/></clipPath><g clip-path="url(#cl3)">
<rect x="102.7" y="548.9" width="177.3" height="41.8" fill="#dadada"/>
<rect x="109.9" y="562.7" width="33.0" height="8.6" rx="9.2" ry="4.3" fill="#6a6a6a" opacity="1.0" filter="url(#b2)"/>
<rect x="149.5" y="562.7" width="35.1" height="12.6" rx="9.8" ry="6.3" fill="#101010" opacity="1.0" filter="url(#b2)"/>
<rect x="191.6" y="563.7" width="37.5" height="10.6" rx="10.5" ry="5.3" fill="#3e3e3e" opacity="1.0" filter="url(#b2)"/>
<rect x="235.2" y="565.7" width="35.7" height="10.6" rx="10.0" ry="5.3" fill="#747474" opacity="1.0" filter="url(#b2)"/>
</g>
<clipPath id="cl4"><rect x="102.7" y="595.3" width="177.3" height="41.2"/></clipPath><g clip-path="url(#cl4)">
<rect x="102.7" y="595.3" width="177.3" height="41.2" fill="#e2e2e2"/>
<rect x="115.3" y="608.7" width="31.6" height="9.6" rx="8.8" ry="4.8" fill="#3e3e3e" opacity="1.0" filter="url(#b2)"/>
<rect x="153.0" y="609.7" width="33.0" height="12.6" rx="9.2" ry="6.3" fill="#000" opacity="1.0" filter="url(#b2)"/>
<rect x="192.1" y="611.7" width="38.4" height="10.1" rx="10.8" ry="5.0" fill="#727272" opacity="1.0" filter="url(#b2)"/>
<rect x="235.2" y="612.7" width="35.7" height="10.6" rx="10.0" ry="5.3" fill="#9a9a9a" opacity="1.0" filter="url(#b2)"/>
</g>
<clipPath id="cl5"><rect x="102.7" y="640" width="177.3" height="41.2"/></clipPath><g clip-path="url(#cl5)">
<rect x="102.7" y="640" width="177.3" height="41.2" fill="url(#gC3)"/>
<rect x="112.6" y="652.7" width="30.3" height="8.6" rx="8.5" ry="4.3" fill="#8e8e8e" opacity="1.0" filter="url(#b2)"/>
<rect x="155.7" y="653.2" width="30.3" height="10.1" rx="8.5" ry="5.0" fill="#2a2a2a" opacity="1.0" filter="url(#b2)"/>
<ellipse cx="212.0" cy="646.0" rx="14.0" ry="7.0" fill="#acacac" opacity="1.0" filter="url(#b3)"/>
<rect x="237.7" y="653.7" width="30.6" height="8.6" rx="8.6" ry="4.3" fill="#cdcdcd" opacity="1.0" filter="url(#b2)"/>
</g>
<clipPath id="cl6"><rect x="102.7" y="685.3" width="177.3" height="41.2"/></clipPath><g clip-path="url(#cl6)">
<rect x="102.7" y="685.3" width="177.3" height="41.2" fill="#e2e2e2"/>
<rect x="114.1" y="698.3" width="29.5" height="11.9" rx="8.3" ry="6.0" fill="#000" opacity="1.0" filter="url(#b2)"/>
<rect x="153.1" y="699.3" width="28.7" height="12.4" rx="8.0" ry="6.2" fill="#000" opacity="1.0" filter="url(#b2)"/>
<rect x="193.6" y="701.3" width="31.4" height="12.4" rx="8.8" ry="6.2" fill="#000" opacity="1.0" filter="url(#b2)"/>
<rect x="234.0" y="700.8" width="34.6" height="14.9" rx="9.7" ry="7.5" fill="#000" opacity="1.0" filter="url(#b2)"/>
</g>
<text x="67.90" y="576.60" font-size="14" text-anchor="middle">IL-1β</text>
<text x="67.90" y="621.00" font-size="14" text-anchor="middle">IL-6</text>
<text x="67.90" y="665.00" font-size="14" text-anchor="middle">TNF-α</text>
<text x="67.90" y="711.30" font-size="14" text-anchor="middle">β-actin</text>
<path d="M338.50 666.60 V629.40 H353.10 V666.60" fill="none" stroke="#92c3f7" stroke-width="2.0"/>
<path d="M345.80 624.60 V632.20 M342.80 624.60 H348.80 M342.80 632.20 H348.80" stroke="#92c3f7" stroke-width="0.8" opacity="0.6" fill="none"/>
<circle cx="345.60" cy="625.60" r="2.5" fill="#92c3f7"/>
<circle cx="352.20" cy="627.70" r="2.5" fill="#92c3f7"/>
<circle cx="339.20" cy="631.20" r="2.5" fill="#92c3f7"/>
<path d="M365.70 666.60 V579.30 H379.90 V666.60" fill="none" stroke="#d3d0f7" stroke-width="2.0"/>
<path d="M372.80 569.30 V584.90 M369.80 569.30 H375.80 M369.80 584.90 H375.80" stroke="#d3d0f7" stroke-width="0.8" opacity="0.6" fill="none"/>
<circle cx="372.40" cy="570.30" r="2.5" fill="#d3d0f7"/>
<circle cx="372.40" cy="577.60" r="2.5" fill="#d3d0f7"/>
<circle cx="372.40" cy="583.90" r="2.5" fill="#d3d0f7"/>
<path d="M391.50 666.60 V600.90 H406.00 V666.60" fill="none" stroke="#f7c90a" stroke-width="2.0"/>
<path d="M398.75 594.70 V604.70 M395.75 594.70 H401.75 M395.75 604.70 H401.75" stroke="#f7c90a" stroke-width="0.8" opacity="0.6" fill="none"/>
<circle cx="405.60" cy="595.70" r="2.5" fill="#f7c90a"/>
<circle cx="398.50" cy="597.40" r="2.5" fill="#f7c90a"/>
<circle cx="398.50" cy="603.70" r="2.5" fill="#f7c90a"/>
<path d="M418.20 666.60 V630.60 H432.80 V666.60" fill="none" stroke="#22b9b9" stroke-width="2.0"/>
<path d="M425.50 626.70 V633.70 M422.50 626.70 H428.50 M422.50 633.70 H428.50" stroke="#22b9b9" stroke-width="0.8" opacity="0.6" fill="none"/>
<circle cx="425.40" cy="627.70" r="2.5" fill="#22b9b9"/>
<circle cx="432.10" cy="629.10" r="2.5" fill="#22b9b9"/>
<circle cx="419.00" cy="632.70" r="2.5" fill="#22b9b9"/>
<path d="M328.50 550.55 V666.60 H443.20" fill="none" stroke="#726fa8" stroke-width="1.5"/>
<path d="M324.00 666.60 H328.50" stroke="#726fa8" stroke-width="1.5"/>
<text x="322.20" y="669.40" font-size="7.5" text-anchor="end">0.0</text>
<path d="M324.00 628.17 H328.50" stroke="#726fa8" stroke-width="1.5"/>
<text x="322.20" y="630.97" font-size="7.5" text-anchor="end">0.5</text>
<path d="M324.00 589.73 H328.50" stroke="#726fa8" stroke-width="1.5"/>
<text x="322.20" y="592.53" font-size="7.5" text-anchor="end">1.0</text>
<path d="M324.00 551.30 H328.50" stroke="#726fa8" stroke-width="1.5"/>
<text x="322.20" y="554.10" font-size="7.5" text-anchor="end">1.5</text>
<path d="M345.80 666.60 V671.10" stroke="#726fa8" stroke-width="1.5"/>
<text x="348.80" y="679.10" font-size="9.5" text-anchor="end" transform="rotate(-45 348.80 679.10)">Con</text>
<path d="M372.80 666.60 V671.10" stroke="#726fa8" stroke-width="1.5"/>
<text x="375.80" y="679.10" font-size="9.5" text-anchor="end" transform="rotate(-45 375.80 679.10)">LPS</text>
<path d="M398.75 666.60 V671.10" stroke="#726fa8" stroke-width="1.5"/>
<text x="401.75" y="679.10" font-size="9.5" text-anchor="end" transform="rotate(-45 401.75 679.10)">R2 10 μM</text>
<path d="M425.50 666.60 V671.10" stroke="#726fa8" stroke-width="1.5"/>
<text x="428.50" y="679.10" font-size="9.5" text-anchor="end" transform="rotate(-45 428.50 679.10)">R2 20 μM</text>
<text x="385.30" y="537.50" font-size="11" text-anchor="middle">IL-6</text>
<text x="349.80" y="621.40" font-size="9.6" text-anchor="start" transform="rotate(-90 349.80 621.40)" textLength="36.00" lengthAdjust="spacingAndGlyphs"><tspan font-style="italic">P</tspan> &lt; 0.001</text>
<text x="403.90" y="591.40" font-size="9.6" text-anchor="start" transform="rotate(-90 403.90 591.40)" textLength="36.20" lengthAdjust="spacingAndGlyphs"><tspan font-style="italic">P</tspan> &lt; 0.001</text>
<text x="429.30" y="622.80" font-size="9.6" text-anchor="start" transform="rotate(-90 429.30 622.80)" textLength="35.30" lengthAdjust="spacingAndGlyphs"><tspan font-style="italic">P</tspan> &lt; 0.001</text>
<text x="306.00" y="608.25" font-size="9.3" text-anchor="middle" transform="rotate(-90 306.00 608.25)" textLength="133.10" lengthAdjust="spacingAndGlyphs">Relative Intensity (% of β-actin )</text>
<path d="M500.90 666.80 V621.00 H515.20 V666.80" fill="none" stroke="#92c3f7" stroke-width="2.0"/>
<path d="M508.05 617.20 V621.70 M505.05 617.20 H511.05 M505.05 621.70 H511.05" stroke="#92c3f7" stroke-width="0.8" opacity="0.6" fill="none"/>
<circle cx="508.00" cy="618.20" r="2.5" fill="#92c3f7"/>
<circle cx="514.80" cy="620.00" r="2.5" fill="#92c3f7"/>
<circle cx="501.40" cy="620.70" r="2.5" fill="#92c3f7"/>
<path d="M527.30 666.80 V583.90 H542.00 V666.80" fill="none" stroke="#d3d0f7" stroke-width="2.0"/>
<path d="M534.65 573.40 V586.10 M531.65 573.40 H537.65 M531.65 586.10 H537.65" stroke="#d3d0f7" stroke-width="0.8" opacity="0.6" fill="none"/>
<circle cx="534.50" cy="574.40" r="2.5" fill="#d3d0f7"/>
<circle cx="528.90" cy="585.10" r="2.5" fill="#d3d0f7"/>
<circle cx="540.90" cy="584.70" r="2.5" fill="#d3d0f7"/>
<path d="M553.60 666.80 V615.80 H568.10 V666.80" fill="none" stroke="#f7c90a" stroke-width="2.0"/>
<path d="M560.85 611.20 V618.60 M557.85 611.20 H563.85 M557.85 618.60 H563.85" stroke="#f7c90a" stroke-width="0.8" opacity="0.6" fill="none"/>
<circle cx="561.10" cy="612.20" r="2.5" fill="#f7c90a"/>
<circle cx="567.70" cy="613.40" r="2.5" fill="#f7c90a"/>
<circle cx="554.30" cy="617.60" r="2.5" fill="#f7c90a"/>
<path d="M580.00 666.80 V638.00 H594.50 V666.80" fill="none" stroke="#22b9b9" stroke-width="2.0"/>
<path d="M587.25 633.10 V640.00 M584.25 633.10 H590.25 M584.25 640.00 H590.25" stroke="#22b9b9" stroke-width="0.8" opacity="0.6" fill="none"/>
<circle cx="587.50" cy="634.10" r="2.5" fill="#22b9b9"/>
<circle cx="594.50" cy="637.00" r="2.5" fill="#22b9b9"/>
<circle cx="581.10" cy="639.00" r="2.5" fill="#22b9b9"/>
<path d="M490.10 550.55 V666.80 H605.50" fill="none" stroke="#726fa8" stroke-width="1.5"/>
<path d="M485.60 666.80 H490.10" stroke="#726fa8" stroke-width="1.5"/>
<text x="483.80" y="669.60" font-size="7.5" text-anchor="end">0.0</text>
<path d="M485.60 628.30 H490.10" stroke="#726fa8" stroke-width="1.5"/>
<text x="483.80" y="631.10" font-size="7.5" text-anchor="end">0.5</text>
<path d="M485.60 589.80 H490.10" stroke="#726fa8" stroke-width="1.5"/>
<text x="483.80" y="592.60" font-size="7.5" text-anchor="end">1.0</text>
<path d="M485.60 551.30 H490.10" stroke="#726fa8" stroke-width="1.5"/>
<text x="483.80" y="554.10" font-size="7.5" text-anchor="end">1.5</text>
<path d="M508.05 666.80 V671.30" stroke="#726fa8" stroke-width="1.5"/>
<text x="511.05" y="679.30" font-size="9.5" text-anchor="end" transform="rotate(-45 511.05 679.30)">Con</text>
<path d="M534.65 666.80 V671.30" stroke="#726fa8" stroke-width="1.5"/>
<text x="537.65" y="679.30" font-size="9.5" text-anchor="end" transform="rotate(-45 537.65 679.30)">LPS</text>
<path d="M560.85 666.80 V671.30" stroke="#726fa8" stroke-width="1.5"/>
<text x="563.85" y="679.30" font-size="9.5" text-anchor="end" transform="rotate(-45 563.85 679.30)">R2 10 μM</text>
<path d="M587.25 666.80 V671.30" stroke="#726fa8" stroke-width="1.5"/>
<text x="590.25" y="679.30" font-size="9.5" text-anchor="end" transform="rotate(-45 590.25 679.30)">R2 20 μM</text>
<text x="547.80" y="537.50" font-size="11" text-anchor="middle">IL-1β</text>
<text x="512.30" y="613.90" font-size="9.6" text-anchor="start" transform="rotate(-90 512.30 613.90)" textLength="35.80" lengthAdjust="spacingAndGlyphs"><tspan font-style="italic">P</tspan> &lt; 0.001</text>
<text x="564.80" y="606.30" font-size="9.6" text-anchor="start" transform="rotate(-90 564.80 606.30)" textLength="36.10" lengthAdjust="spacingAndGlyphs"><tspan font-style="italic">P</tspan> &lt; 0.001</text>
<text x="591.40" y="629.90" font-size="9.6" text-anchor="start" transform="rotate(-90 591.40 629.90)" textLength="36.00" lengthAdjust="spacingAndGlyphs"><tspan font-style="italic">P</tspan> &lt; 0.001</text>
<text x="467.60" y="608.25" font-size="9.3" text-anchor="middle" transform="rotate(-90 467.60 608.25)" textLength="133.10" lengthAdjust="spacingAndGlyphs">Relative Intensity (% of β-actin )</text>
<path d="M655.20 665.80 V630.90 H670.20 V665.80" fill="none" stroke="#92c3f7" stroke-width="2.0"/>
<path d="M662.70 626.80 V633.70 M659.70 626.80 H665.70 M659.70 633.70 H665.70" stroke="#92c3f7" stroke-width="0.8" opacity="0.6" fill="none"/>
<circle cx="662.70" cy="627.80" r="2.5" fill="#92c3f7"/>
<circle cx="669.50" cy="628.90" r="2.5" fill="#92c3f7"/>
<circle cx="656.40" cy="632.70" r="2.5" fill="#92c3f7"/>
<path d="M682.10 665.80 V595.20 H697.00 V665.80" fill="none" stroke="#d3d0f7" stroke-width="2.0"/>
<path d="M689.55 587.20 V597.00 M686.55 587.20 H692.55 M686.55 597.00 H692.55" stroke="#d3d0f7" stroke-width="0.8" opacity="0.6" fill="none"/>
<circle cx="689.50" cy="588.20" r="2.5" fill="#d3d0f7"/>
<circle cx="683.20" cy="596.00" r="2.5" fill="#d3d0f7"/>
<circle cx="695.90" cy="595.30" r="2.5" fill="#d3d0f7"/>
<path d="M708.20 665.80 V616.10 H723.10 V665.80" fill="none" stroke="#f7c90a" stroke-width="2.0"/>
<path d="M715.65 608.70 V618.20 M712.65 608.70 H718.65 M712.65 618.20 H718.65" stroke="#f7c90a" stroke-width="0.8" opacity="0.6" fill="none"/>
<circle cx="715.70" cy="609.70" r="2.5" fill="#f7c90a"/>
<circle cx="709.30" cy="617.20" r="2.5" fill="#f7c90a"/>
<circle cx="722.30" cy="615.40" r="2.5" fill="#f7c90a"/>
<path d="M735.00 665.80 V650.00 H749.50 V665.80" fill="none" stroke="#22b9b9" stroke-width="2.0"/>
<path d="M742.25 643.40 V657.00 M739.25 643.40 H745.25 M739.25 657.00 H745.25" stroke="#22b9b9" stroke-width="0.8" opacity="0.6" fill="none"/>
<circle cx="735.40" cy="644.40" r="2.5" fill="#22b9b9"/>
<circle cx="748.80" cy="646.40" r="2.5" fill="#22b9b9"/>
<circle cx="742.10" cy="656.00" r="2.5" fill="#22b9b9"/>
<path d="M644.90 549.95 V665.80 H759.70" fill="none" stroke="#726fa8" stroke-width="1.5"/>
<path d="M640.40 665.80 H644.90" stroke="#726fa8" stroke-width="1.5"/>
<text x="638.60" y="668.60" font-size="7.5" text-anchor="end">0.0</text>
<path d="M640.40 627.43 H644.90" stroke="#726fa8" stroke-width="1.5"/>
<text x="638.60" y="630.23" font-size="7.5" text-anchor="end">0.5</text>
<path d="M640.40 589.07 H644.90" stroke="#726fa8" stroke-width="1.5"/>
<text x="638.60" y="591.87" font-size="7.5" text-anchor="end">1.0</text>
<path d="M640.40 550.70 H644.90" stroke="#726fa8" stroke-width="1.5"/>
<text x="638.60" y="553.50" font-size="7.5" text-anchor="end">1.5</text>
<path d="M662.70 665.80 V670.30" stroke="#726fa8" stroke-width="1.5"/>
<text x="665.70" y="678.30" font-size="9.5" text-anchor="end" transform="rotate(-45 665.70 678.30)">Con</text>
<path d="M689.55 665.80 V670.30" stroke="#726fa8" stroke-width="1.5"/>
<text x="692.55" y="678.30" font-size="9.5" text-anchor="end" transform="rotate(-45 692.55 678.30)">LPS</text>
<path d="M715.65 665.80 V670.30" stroke="#726fa8" stroke-width="1.5"/>
<text x="718.65" y="678.30" font-size="9.5" text-anchor="end" transform="rotate(-45 718.65 678.30)">R2 10 μM</text>
<path d="M742.25 665.80 V670.30" stroke="#726fa8" stroke-width="1.5"/>
<text x="745.25" y="678.30" font-size="9.5" text-anchor="end" transform="rotate(-45 745.25 678.30)">R2 20 μM</text>
<text x="702.00" y="535.90" font-size="11" text-anchor="middle">TNF-α</text>
<text x="666.60" y="622.80" font-size="9.6" text-anchor="start" transform="rotate(-90 666.60 622.80)" textLength="36.70" lengthAdjust="spacingAndGlyphs"><tspan font-style="italic">P</tspan> &lt; 0.001</text>
<text x="719.30" y="605.90" font-size="9.6" text-anchor="start" transform="rotate(-90 719.30 605.90)" textLength="36.30" lengthAdjust="spacingAndGlyphs"><tspan font-style="italic">P</tspan> &lt; 0.001</text>
<text x="745.70" y="639.10" font-size="9.6" text-anchor="start" transform="rotate(-90 745.70 639.10)" textLength="36.00" lengthAdjust="spacingAndGlyphs"><tspan font-style="italic">P</tspan> &lt; 0.001</text>
<text x="623.40" y="608.25" font-size="9.3" text-anchor="middle" transform="rotate(-90 623.40 608.25)" textLength="133.10" lengthAdjust="spacingAndGlyphs">Relative Intensity (% of β-actin )</text>
</svg></body></html>
